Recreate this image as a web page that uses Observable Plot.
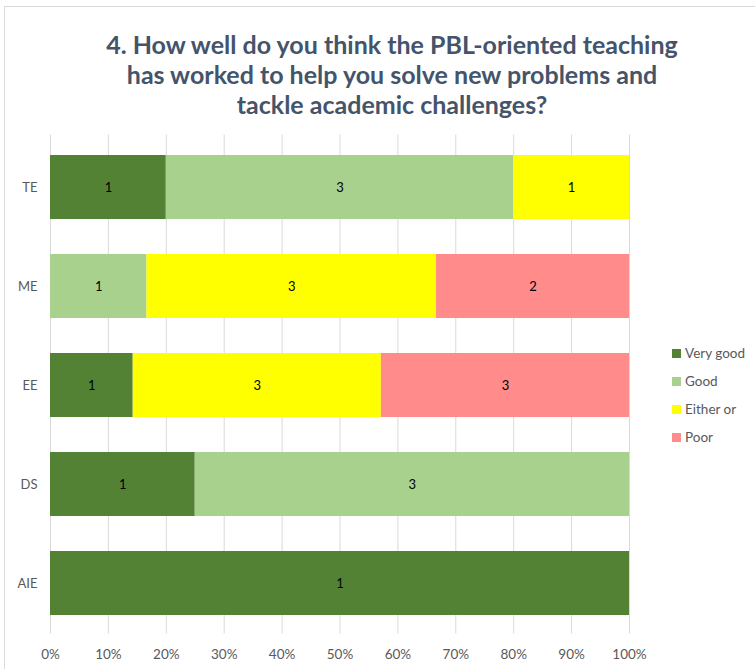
<!DOCTYPE html>
<html>
<head>
<meta charset="utf-8">
<script src="https://cdn.jsdelivr.net/npm/d3@7"></script>
<script src="https://cdn.jsdelivr.net/npm/@observablehq/plot@0.6"></script>
<style>
  html, body { margin: 0; padding: 0; background: #fff; }
  #wrap { position: relative; width: 755px; height: 669px; overflow: hidden; font-family: Lato, "Open Sans", sans-serif; }
  #frame { position: absolute; left: 4px; top: 6px; width: 800px; height: 700px; border: 1px solid #D9D9D9; box-sizing: border-box; }
  #title { position: absolute; left: 0; top: 29px; width: 784px; text-align: center; font-size: 25px; font-weight: bold; color: #44546A; line-height: 30px; }
  #chart { position: absolute; left: 0; top: 0; }
  #legend { position: absolute; left: 672px; top: 339px; font-size: 13.5px; color: #595959; }
  #legend .row { height: 28px; display: flex; align-items: center; }
  #legend .sw { width: 9px; height: 9px; margin-right: 4px; }
</style>
</head>
<body>
<div id="wrap">
  <div id="frame"></div>
  <div id="chart"></div>
  <div id="title">4. How well do you think the PBL-oriented teaching<br>has worked to help you solve new problems and<br>tackle academic challenges?</div>
  <div id="legend"></div>
</div>
<script>
const categories = ["TE", "ME", "EE", "DS", "AIE"];
const ratings = ["Very good", "Good", "Either or", "Poor"];
const colors = ["#548235", "#A9D18E", "#FFFF00", "#FF8B8B"];
const veryGood = [1, 0, 1, 1, 1];
const good = [3, 1, 0, 3, 0];
const eitherOr = [1, 3, 3, 0, 0];
const poor = [0, 2, 3, 0, 0];
const xTicks = [0, 0.1, 0.2, 0.3, 0.4, 0.5, 0.6, 0.7, 0.8, 0.9, 1];

const series = [veryGood, good, eitherOr, poor];
const rows = [];
categories.forEach((c, i) => {
  ratings.forEach((r, j) => {
    if (series[j][i] > 0) rows.push({cat: c, rating: r, value: series[j][i]});
  });
});

const stackOpts = {x: "value", y: "cat", z: "rating", offset: "normalize", order: ratings};

const plot = Plot.plot({
  width: 755,
  height: 669,
  marginTop: 137.5,
  marginBottom: 36.5,
  marginLeft: 50,
  marginRight: 126,
  style: {fontFamily: "Lato, 'Open Sans', sans-serif", fontSize: "13px", background: "transparent"},
  x: {domain: [0, 1], label: null},
  y: {domain: categories, label: null, paddingInner: 0.354, paddingOuter: 0.177},
  color: {domain: ratings, range: colors},
  marks: [
    Plot.ruleX(xTicks, {x: d => d, stroke: "#D9D9D9", strokeWidth: 1, insetTop: -3, insetBottom: -1}),
    Plot.barX(rows, Plot.stackX({...stackOpts, fill: "rating"})),
    Plot.text(rows, Plot.stackX({...stackOpts, text: "value", fill: "#000", fontSize: 13})),
    Plot.axisX({ticks: xTicks, tickFormat: d => Math.round(d * 100) + "%", tickSize: 0, tickPadding: 16, color: "#595959", fontSize: 13.5, label: null}),
    Plot.axisY({tickSize: 0, tickPadding: 13, color: "#595959", fontSize: 13, label: null})
  ]
});
document.getElementById("chart").appendChild(plot);

const legend = document.getElementById("legend");
ratings.forEach((r, i) => {
  const row = document.createElement("div");
  row.className = "row";
  const sw = document.createElement("div");
  sw.className = "sw";
  sw.style.background = colors[i];
  const t = document.createElement("span");
  t.textContent = r;
  row.appendChild(sw);
  row.appendChild(t);
  legend.appendChild(row);
});
</script>
</body>
</html>
